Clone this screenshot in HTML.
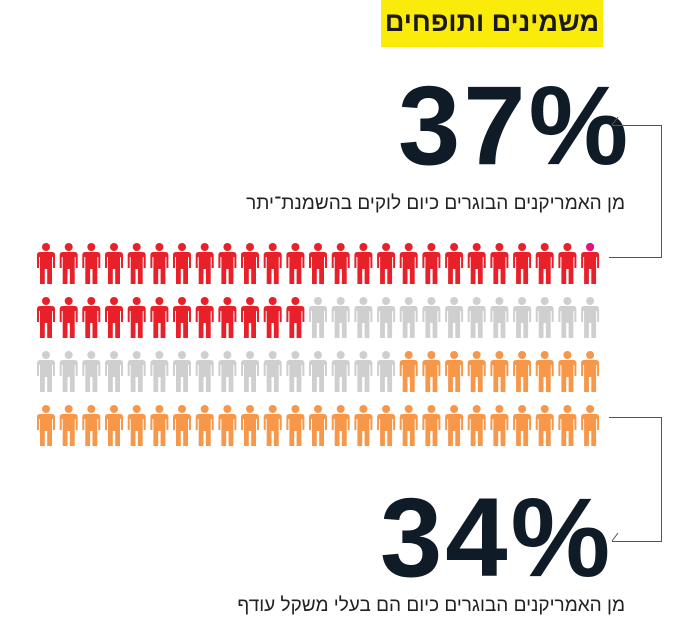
<!DOCTYPE html>
<html><head><meta charset="utf-8"><style>
body{margin:0;width:700px;height:630px;background:#fff;position:relative;overflow:hidden;font-family:"Liberation Sans","Noto Sans CJK SC",sans-serif}
.t{position:absolute;white-space:nowrap}
</style></head><body>
<div class="t" style="left:381px;top:0;width:222px;height:47px;background:#fbeb0a"></div>
<div class="t" style="left:381px;width:222px;top:7px;text-align:center;font-size:27px;font-weight:bold;color:#1a1a1a;direction:rtl">משמינים ותופחים</div>
<div class="t" style="left:398px;top:61px;font-size:112px;font-weight:bold;color:#0f1b26;letter-spacing:3px">37%</div>
<div class="t" style="right:75px;top:193px;font-size:19px;color:#222;direction:rtl">מן האמריקנים הבוגרים כיום לוקים בהשמנת־יתר</div>
<div class="t" style="left:380px;top:473px;font-size:112px;font-weight:bold;color:#0f1b26;letter-spacing:3px">34%</div>
<div class="t" style="right:75px;top:595px;font-size:19px;color:#222;direction:rtl">מן האמריקנים הבוגרים כיום הם בעלי משקל עודף</div>
<svg width="700" height="630" style="position:absolute;left:0;top:0">
<defs><g id="p"><circle cx="0" cy="4" r="4"/><path d="M-9 12 Q-9 9 -6 9 L6 9 Q9 9 9 12 L9 25 L7 25 L7 14 L6 14 L6 41 L1.2 41 L1.2 26 L-1.2 26 L-1.2 41 L-6 41 L-6 14 L-7 14 L-7 25 L-9 25 Z"/></g></defs>
<g fill="none" stroke="#555" stroke-width="1">
<path d="M612 125.5H661.5V257.5H609"/><path d="M609 417.5H661.5V541.5H612"/>
<path d="M612 125L618 117" /><path d="M612 541L618 533"/>
</g>
<g id="icons"></g>
</svg>
<script>
var g=document.getElementById('icons'),s='';
var R='#e8202a',G='#cfcfcf',O='#f7974a';
for(var r=0;r<4;r++)for(var c=0;c<25;c++){var col;
if(r==0)col=R;else if(r==1)col=c<12?R:G;else if(r==2)col=c<16?G:O;else col=O;
var x=46+c*22.67,y=243+r*54;
s+='<use href="#p" x="'+x.toFixed(1)+'" y="'+y+'" fill="'+col+'"/>';}
s+='<circle cx="'+(46+24*22.67).toFixed(1)+'" cy="247" r="4" fill="#e8107a"/>';
g.innerHTML=s;
</script>
</body></html>
